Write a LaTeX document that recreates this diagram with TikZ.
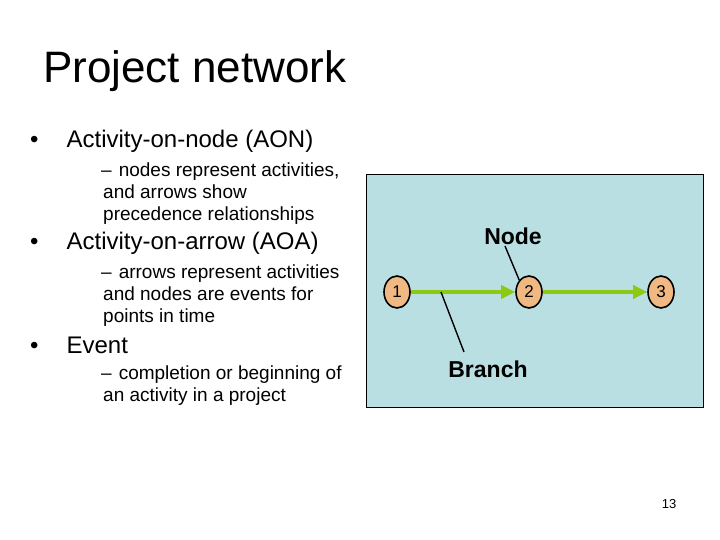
\documentclass[tikz,border=0pt]{standalone}
\usepackage{fontspec}
\setmainfont{Liberation Sans}
\begin{document}
\begin{tikzpicture}[x=1pt,y=-1pt,
 ev/.style={ellipse,draw=black,line width=1.6pt,fill={rgb,255:red,240;green,184;blue,130},minimum width=26pt,minimum height=32pt,inner sep=0pt,font=\fontsize{17}{17}\selectfont},
 act/.style={-{Triangle[length=14pt,width=13pt]},line width=3.5pt,draw={rgb,255:red,140;green,200;blue,20}},
 lead/.style={line width=1.4pt},
 lab/.style={font=\bfseries\fontsize{23}{23}\selectfont},
 t1/.style={anchor=west,font=\fontsize{24}{24}\selectfont},
 t2/.style={anchor=north west,font=\fontsize{19}{22}\selectfont,align=left,inner sep=0pt}]
\usetikzlibrary{shapes.geometric,arrows.meta}
\useasboundingbox (0,0) rectangle (720,540);
\node[anchor=west,font=\fontsize{44}{44}\selectfont,inner sep=0pt] (title) at (43,71) {Project network};
\node[t1,inner sep=0pt] (b1) at (30,141) {•\hspace{28pt}Activity-on-node (AON)};
\node[t2] (s1) at (101,163) {–\hspace{7pt}nodes represent activities,\\\hspace{2pt}and arrows show\\\hspace{2pt}precedence relationships};
\node[t1,inner sep=0pt] (b2) at (30,243) {•\hspace{28pt}Activity-on-arrow (AOA)};
\node[t2] (s2) at (101,265) {–\hspace{7pt}arrows represent activities\\\hspace{2pt}and nodes are events for\\\hspace{2pt}points in time};
\node[t1,inner sep=0pt] (b3) at (30,345) {•\hspace{28pt}Event};
\node[t2] (s3) at (101,366) {–\hspace{7pt}completion or beginning of\\\hspace{2pt}an activity in a project};
\node[draw=black,line width=0.8pt,fill={rgb,255:red,186;green,223;blue,226},minimum width=337pt,minimum height=233pt,inner sep=0pt,anchor=north west] (box) at (366,174) {};
\node[ev] (n1) at (397,292) {1};
\node[ev] (n2) at (529,292) {2};
\node[ev] (n3) at (661,292) {3};
\draw[act] (n1) -- (n2);
\draw[act] (n2) -- (n3);
\node[lab] (nl) at (513,236) {Node};
\node[lab] (bl) at (488,369) {Branch};
\coordinate (bp) at (441,292);
\draw[lead] (505,246) -- (n2.north west);
\draw[lead] (bp) -- (464,352);
\node[font=\fontsize{13}{13}\selectfont] (pg) at (669,504) {13};
\end{tikzpicture}
\end{document}
